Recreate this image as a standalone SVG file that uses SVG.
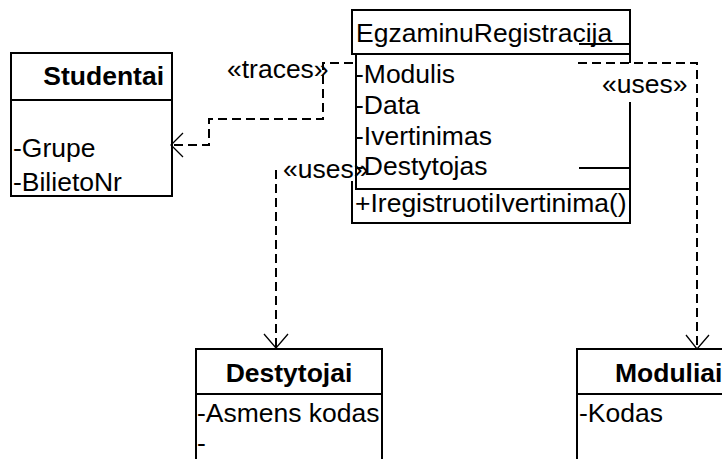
<svg xmlns="http://www.w3.org/2000/svg" width="722" height="459" viewBox="0 0 722 459">
  <style>
    .box { fill: none; stroke: #000; stroke-width: 2; }
    .ln { fill: none; stroke: #000; stroke-width: 2; }
    .dash { fill: none; stroke: #000; stroke-width: 2; stroke-dasharray: 9 5; }
    .head { fill: none; stroke: #000; stroke-width: 1.3; }
    text { font-family: "Liberation Sans", Arial, sans-serif; font-size: 25px; fill: #000; }
    .b { font-weight: bold; }
  </style>
  <rect width="722" height="459" fill="#fff"/>

  <g id="connectors">
    <!-- traces: EgzaminuRegistracija to Studentai -->
    <path class="dash" d="M353,63 H323 V119 H209 V145 H172"/>
    <path class="head" d="M183,133 L171,145 L183,157"/>
    <text transform="matrix(1.06 0 0 1 227 78)">«traces»</text>
    <!-- uses: to Destytojai -->
    <path class="dash" d="M276,170 V347"/>
    <path class="head" d="M264,334 L276,348 L288,334"/>
    <text transform="matrix(1.06 0 0 1 283 178)">«uses»</text>
    <!-- uses: to Moduliai -->
    <path class="dash" d="M578,63 H697 V347"/>
    <path class="head" d="M686,335 L697,349 L709,335"/>
    <text transform="matrix(1.06 0 0 1 602 93)">«uses»</text>
  </g>

  <g id="egzaminu-registracija">
    <path class="ln" d="M630,63 V10 H352 V54 H630"/>
    <path class="ln" d="M630,102 V223 H352 V181"/>
    <path class="ln" d="M356,54 V189 H630"/>
    <path class="ln" d="M579,44 H630"/>
    <path class="ln" d="M579,168 H630"/>
    <text transform="matrix(1.06 0 0 1 356 42)">EgzaminuRegistracija</text>
    <text transform="matrix(1.06 0 0 1 355 83)">-Modulis</text>
    <text transform="matrix(1.06 0 0 1 355 114)">-Data</text>
    <text transform="matrix(1.06 0 0 1 355 145)">-Ivertinimas</text>
    <text transform="matrix(1.06 0 0 1 355 175)">-Destytojas</text>
    <text transform="matrix(1.06 0 0 1 355 212)">+IregistruotiIvertinima()</text>
  </g>

  <g id="studentai">
    <rect class="box" x="11" y="53" width="161" height="143"/>
    <path class="ln" d="M11,100 H172"/>
    <text class="b" text-anchor="end" transform="matrix(1.06 0 0 1 164 85)">Studentai</text>
    <text transform="matrix(1.06 0 0 1 13 157)">-Grupe</text>
    <text transform="matrix(1.06 0 0 1 13 191)">-BilietoNr</text>
  </g>

  <g id="destytojai">
    <path class="ln" d="M196,470 V349 H382 V470"/>
    <path class="ln" d="M196,394 H382"/>
    <text class="b" text-anchor="middle" transform="matrix(1.06 0 0 1 289 382)">Destytojai</text>
    <text transform="matrix(1.06 0 0 1 197 422)">-Asmens kodas</text>
    <text transform="matrix(1.06 0 0 1 197 452)">-</text>
  </g>

  <g id="moduliai">
    <path class="ln" d="M577,470 V349 H730"/>
    <path class="ln" d="M577,394 H730"/>
    <text class="b" transform="matrix(1.06 0 0 1 615 382)">Moduliai</text>
    <text transform="matrix(1.06 0 0 1 579 422)">-Kodas</text>
  </g>
</svg>
